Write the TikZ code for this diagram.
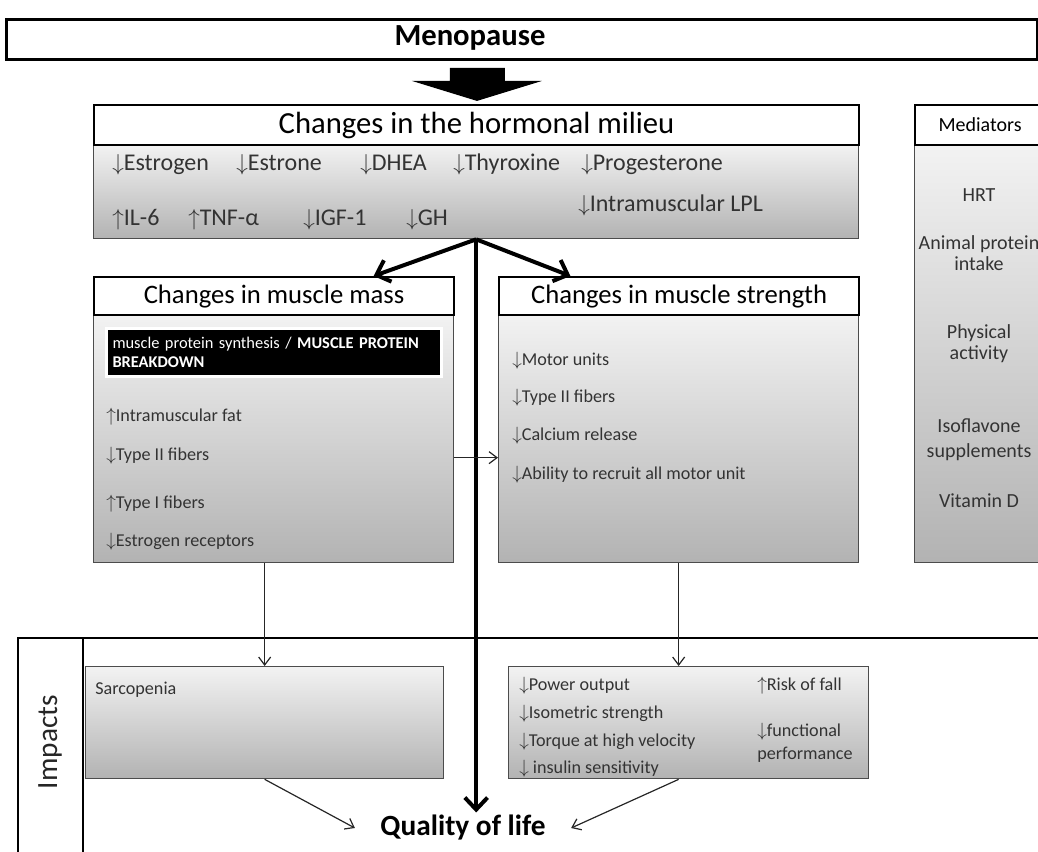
\documentclass[tikz,border=0pt]{standalone}
\usepackage{fontspec}
\setmainfont{Carlito}
\usetikzlibrary{arrows.meta,calc}

\newcommand{\decr}{$\downarrow$}
\newcommand{\incr}{$\uparrow$}

\tikzset{
  hdr/.style={draw, line width=1.6pt, fill=white, anchor=north west, inner sep=0pt},
  body/.style={draw=black!70, line width=1pt, top color=black!5, bottom color=black!30, anchor=north west, inner sep=0pt},
  item/.style={anchor=west, inner sep=0.75pt, text height=0.75em, text depth=0.25em, text=black!80, font=\fontsize{13.6}{16}\selectfont},
  hitem/.style={item, font=\fontsize{18}{21}\selectfont},
  mitem/.style={inner sep=0.75pt, text=black!80, font=\fontsize{15}{18}\selectfont},
  thinarrow/.style={-{Straight Barb[length=6pt,width=9pt]}, line width=0.9pt, black!85},
  thickarrow/.style={-{Straight Barb[length=9pt,width=17pt]}, line width=3pt},
  frameline/.style={line width=2.2pt},
}

\begin{document}
\begin{tikzpicture}[x=0.75pt,y=0.75pt,yscale=-1,xscale=1]
\useasboundingbox (0,0) rectangle (1038,852);

%Shape: Rectangle [Menopause]
\node[hdr, line width=2.2pt, minimum width=773.25pt, minimum height=30pt] (meno) at (5,18) {};
\node[font=\bfseries\fontsize{23}{27}\selectfont] (menotxt) at (470,38) {Menopause};
%Shape: Block arrow
\fill ($(meno.south)+(-72,7)$) -- ++(55,0) -- ++(0,13) -- ++(37,0) -- ++(-65,20) -- ++(-65,-20) -- ++(38,0) -- cycle;

%Shape: Rectangle [hormonal milieu]
\node[body, minimum width=573.75pt, minimum height=70.5pt] (hormb) at (93,144) {};
\node[hdr, minimum width=573.75pt, minimum height=30pt, font=\fontsize{23}{27}\selectfont] (hormh) at (93,104) {Changes in the hormonal milieu};

%Shape: Rectangle [Mediators]
\node[body, minimum width=97.5pt, minimum height=313.5pt] (medb) at (914,144) {};
\node[hdr, minimum width=97.5pt, minimum height=30pt, font=\fontsize{15}{18}\selectfont] (medh) at (914,104) {Mediators};

%Shape: Rectangle [muscle mass]
\node[body, minimum width=270pt, minimum height=186pt] (massb) at (93,314) {};
\node[hdr, minimum width=270pt, minimum height=28.5pt, font=\fontsize{20}{24}\selectfont] (massh) at (93,276) {Changes in muscle mass};
\node[anchor=north west, fill=black, draw=white, line width=2pt, text=white, minimum width=251.25pt, minimum height=36pt, text width=242pt, inner xsep=4.6pt, align=left, font=\fontsize{12.3}{14.5}\selectfont] (mpsbox) at (105,327) {muscle protein synthesis / \textbf{\mbox{MUSCLE PROTEIN}}\\\textbf{BREAKDOWN}};

%Shape: Rectangle [muscle strength]
\node[body, minimum width=270pt, minimum height=186pt] (strb) at (498,314) {};
\node[hdr, minimum width=270pt, minimum height=28.5pt, font=\fontsize{20}{24}\selectfont] (strh) at (498,276) {Changes in muscle strength};

%Shape: Rectangle [impacts]
\node[body, minimum width=268.5pt, minimum height=84pt] (sarc) at (85,666) {};
\node[body, minimum width=270pt, minimum height=84pt] (imp) at (508,666) {};

%Straight Lines [impacts frame]
\draw[frameline] (18,860) -- (18,638) -- (1045,638);
\draw[frameline] (83,638) -- (83,860);

% Text Node
\node[hitem] (h1) at (111,167) {\decr Estrogen};
\node[hitem] (h2) at (235,167) {\decr Estrone};
\node[hitem] (h3) at (359,167) {\decr DHEA};
\node[hitem] (h4) at (452,167) {\decr Thyroxine};
\node[hitem] (h5) at (580,167) {\decr Progesterone};
\node[hitem] (h6) at (111,222) {\incr IL-6};
\node[hitem] (h7) at (187,222) {\incr TNF-α};
\node[hitem] (h8) at (302,222) {\decr IGF-1};
\node[hitem] (h9) at (405,222) {\decr GH};
\node[hitem] (h10) at (577,208) {\decr Intramuscular LPL};
% Text Node
\node[mitem] (m1) at (979,195) {HRT};
\node[mitem] (m2) at (979,244) {Animal protein};
\node[mitem] (m3) at (979,264) {intake};
\node[mitem] (m4) at (979,333) {Physical};
\node[mitem] (m5) at (979,354) {activity};
\node[mitem] (m6) at (979,426) {Isoflavone};
\node[mitem] (m7) at (979,452) {supplements};
\node[mitem] (m8) at (979,501) {Vitamin D};
% Text Node
\node[item] (a1) at (105,418) {\incr Intramuscular fat};
\node[item] (a2) at (105,457) {\decr Type II fibers};
\node[item] (a3) at (105,505) {\incr Type I fibers};
\node[item] (a4) at (105,543) {\decr Estrogen receptors};
% Text Node
\node[item] (b1) at (511,362) {\decr Motor units};
\node[item] (b2) at (511,399) {\decr Type II fibers};
\node[item] (b3) at (511,437) {\decr Calcium release};
\node[item] (b4) at (511,476) {\decr Ability to recruit all motor unit};
% Text Node
\node[item] (s1) at (94,691) {Sarcopenia};
\node[item] (c1) at (518,687) {\decr Power output};
\node[item] (c2) at (518,715) {\decr Isometric strength};
\node[item] (c3) at (518,743) {\decr Torque at high velocity};
\node[item] (c4) at (518,770) {\decr\ insulin sensitivity};
\node[item] (c5) at (756,687) {\incr Risk of fall};
\node[item] (c6) at (756,733) {\decr functional};
\node[item] (c7) at (756,756) {performance};
% Text Node
\node[rotate=90, font=\fontsize{22}{26}\selectfont, text=black!85] (impl) at (50,742) {Impacts};
\node[inner xsep=19pt, inner ysep=2pt, font=\bfseries\fontsize{22}{26}\selectfont] (qol) at (463,828) {Quality of life};

%Straight Lines
\draw[thickarrow] (hormb.south) -- ($(massh.north)!0.55!(massh.north east)$);
\draw[thickarrow] (hormb.south) -- ($(strh.north)!0.6!(strh.north west)$);
\draw[thickarrow] (hormb.south) -- (hormb.south |- qol.north);
\draw[thinarrow] ([yshift=14.25pt]massb.east) -- ([yshift=14.25pt]strb.west);
\draw[thinarrow] (sarc.north |- massb.south) -- (sarc.north);
\draw[thinarrow] (strb.south) -- (strb.south |- imp.north);
\draw[thinarrow] (sarc.south) -- (qol.west);
\draw[thinarrow] (strb.south |- imp.south) -- (qol.east);

\end{tikzpicture}
\end{document}
